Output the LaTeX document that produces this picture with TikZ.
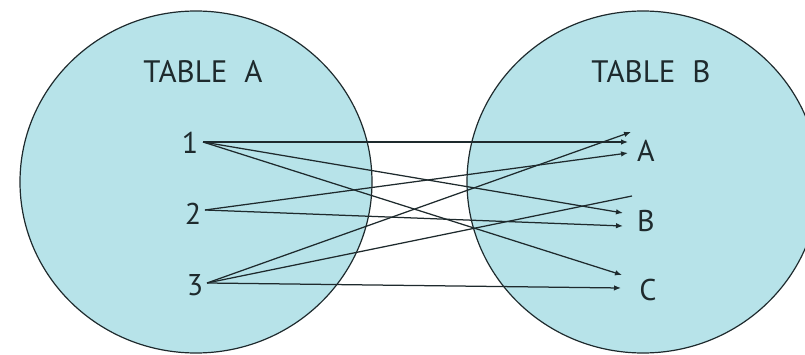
\documentclass[tikz,border=0pt]{standalone}
\usepackage{fontspec}
\setmainfont{PT Sans}
\usetikzlibrary{arrows.meta}
\definecolor{setfill}{RGB}{183,227,233}
\definecolor{ink}{RGB}{30,42,45}
\tikzset{
  setshape/.style={draw=ink, line width=1.2pt, fill=setfill},
  title/.style={text=ink, font=\fontsize{31}{32}\selectfont, inner sep=0pt},
  elem/.style={text=ink, font=\fontsize{30}{31}\selectfont, inner sep=0pt},
  maplink/.style={draw=ink, line width=1.25pt, -{Latex[length=7pt,width=5.5pt]}},
  strayline/.style={draw=ink, line width=1.25pt}
}
\begin{document}
\begin{tikzpicture}[x=1pt, y=-1pt]
  \useasboundingbox (0,0) rectangle (805,355);
  \begin{scope}
    \clip (0,0) rectangle (805,355);
    % the two sets
    \draw[setshape] (196,182) ellipse [x radius=176, y radius=171];
    \draw[setshape] (643,182) ellipse [x radius=176, y radius=171];
  \end{scope}

  % set titles
  \node[title] (ta) at (203,72) {TABLE\hspace{0.55em}A};
  \node[title] (tb) at (651,72) {TABLE\hspace{0.55em}B};

  % elements of table A
  \node[elem] (n1) at (190,143) {1};
  \node[elem] (n2) at (193,214) {2};
  \node[elem] (n3) at (195,285) {3};
  % elements of table B
  \node[elem] (la) at (646,151) {A};
  \node[elem] (lb) at (646,221) {B};
  \node[elem] (lc) at (648,290) {C};

  % line start points beside the numbers
  \coordinate (s1) at (203,142);
  \coordinate (s2) at (205,210);
  \coordinate (s3) at (207,283);
  % arrow tips beside the letters
  \coordinate (a1) at (631,132);
  \coordinate (a2) at (628,142);
  \coordinate (a3) at (628,153);
  \coordinate (b1) at (623,213);
  \coordinate (b2) at (623,226);
  \coordinate (c1) at (622,275);
  \coordinate (c2) at (621,288);
  \coordinate (x1) at (632,196);

  % mappings
  \draw[maplink] (s1) -- (a2);
  \draw[maplink] (s1) -- (b1);
  \draw[maplink] (s1) -- (c1);
  \draw[maplink] (s2) -- (a3);
  \draw[maplink] (s2) -- (b2);
  \draw[maplink] (s3) -- (a1);
  \draw[strayline] (s3) -- (x1);
  \draw[maplink] (s3) -- (c2);
\end{tikzpicture}
\end{document}
